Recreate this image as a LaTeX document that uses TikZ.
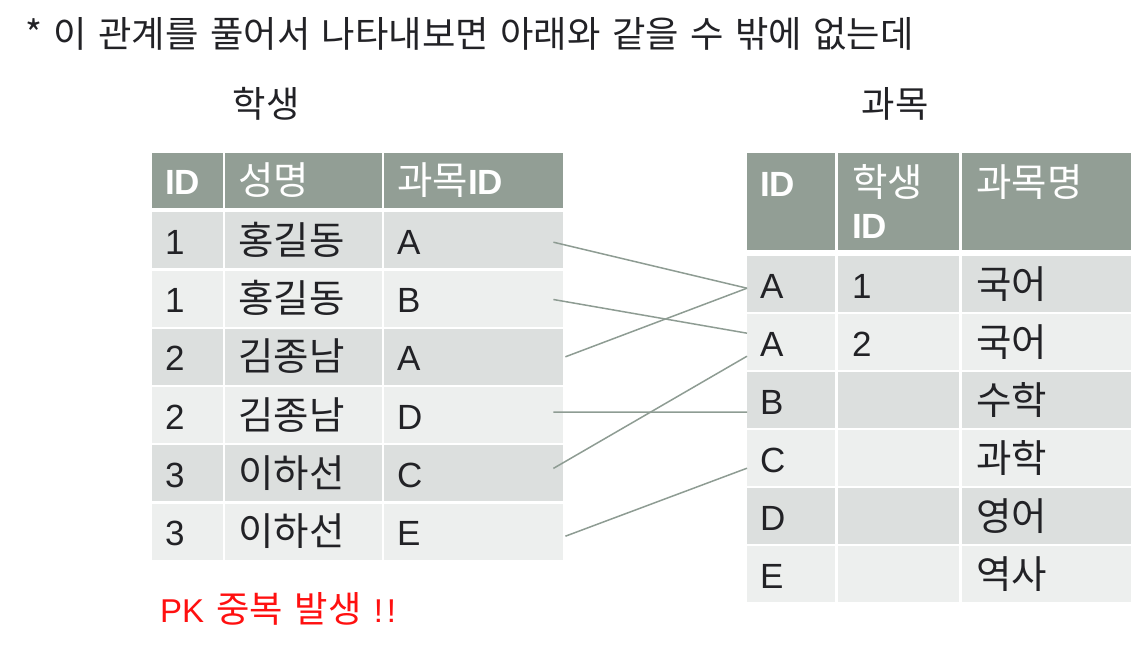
\documentclass[tikz,border=0pt]{standalone}
\usepackage{fontspec}
\setmainfont{Liberation Sans}
\newfontfamily\kr[Scale=1.1]{Noto Sans CJK KR}
\definecolor{hdr}{HTML}{929E95}
\definecolor{dk}{HTML}{DCDFDE}
\definecolor{lt}{HTML}{EDEFEE}
\definecolor{lnk}{HTML}{8E9C93}
\definecolor{txt}{HTML}{222226}
\definecolor{warn}{HTML}{FF1010}
\tikzset{
  cell/.style={inner xsep=13pt, inner ysep=0pt, text height=30pt, text depth=2pt,
    align=left, anchor=north west, text=txt, font=\fontsize{35}{42}\selectfont},
  hcell/.style={cell, fill=hdr, text=white},
  lc1/.style={minimum width=71pt, text width=45pt},
  lc2/.style={minimum width=157pt, text width=131pt},
  lc3/.style={minimum width=179pt, text width=153pt},
  rc1/.style={minimum width=88pt, text width=62pt},
  rc2/.style={minimum width=121pt, text width=93pt, inner xsep=14pt},
  rc3/.style={minimum width=169pt, text width=141pt, inner xsep=14pt},
  lrow/.style={minimum height=56pt},
  rhdr/.style={hcell, minimum height=97pt, text height=43pt, text depth=54pt},
  caption/.style={text=txt, font=\fontsize{33}{40}\selectfont\kr, inner sep=0pt},
  link/.style={draw=lnk, line width=1.5pt},
}
\begin{document}
\begin{tikzpicture}[x=1pt,y=-1pt]
\useasboundingbox (0,0) rectangle (1136,654);
% title
\node[caption, anchor=base west] (title) at (25,47)
  {\spaceskip=11.5pt plus 1pt * 이 관계를 풀어서 나타내보면 아래와 같을 수 밖에 없는데};
\node[caption, anchor=base] (cap-s) at (266,117) {학생};
\node[caption, anchor=base] (cap-c) at (895,117) {과목};
% left table header
\node[hcell, lc1, minimum height=55pt] (lh-1) at (152,153) {\bfseries ID};
\node[hcell, lc2, minimum height=55pt] (lh-2) at (225,153) {\kr 성명};
\node[hcell, lc3, minimum height=55pt] (lh-3) at (384,153) {{\kr 과목}\bfseries ID};
% left table rows
\foreach \i/\sid/\nm/\sub/\col in {1/1/홍길동/A/dk, 2/1/홍길동/B/lt, 3/2/김종남/A/dk,
    4/2/김종남/D/lt, 5/3/이하선/C/dk, 6/3/이하선/E/lt}{
  \node[cell, lc1, lrow, fill=\col] (l\i-1) at (152,{212+58.3*(\i-1)}) {\sid};
  \node[cell, lc2, lrow, fill=\col] (l\i-2) at (225,{212+58.3*(\i-1)}) {\kr \nm};
  \node[cell, lc3, lrow, fill=\col] (l\i-3) at (384,{212+58.3*(\i-1)}) {\sub};
}
% right table header
\node[rhdr, rc1] (rh-1) at (747,153) {\bfseries ID};
\node[rhdr, rc2] (rh-2) at (838,153) {{\kr 학생}\\\bfseries ID};
\node[rhdr, rc3] (rh-3) at (962,153) {\kr 과목명};
% right table rows
\foreach \i/\cid/\sid/\nm/\col in {1/A/1/국어/dk, 2/A/2/국어/lt, 3/B//수학/dk,
    4/C//과학/lt, 5/D//영어/dk, 6/E//역사/lt}{
  \node[cell, rc1, lrow, fill=\col] (r\i-1) at (747,{256+58*(\i-1)}) {\cid};
  \node[cell, rc2, lrow, fill=\col] (r\i-2) at (838,{256+58*(\i-1)}) {\sid};
  \node[cell, rc3, lrow, fill=\col] (r\i-3) at (962,{256+58*(\i-1)}) {\kr \nm};
}
% connectors
\draw[link] ([shift={(-10,2)}]l1-3.east) -- ([shift={(0,4)}]r1-1.west);
\draw[link] ([shift={(-10,1)}]l2-3.east) -- ([shift={(0,-9)}]r2-1.west);
\draw[link] ([shift={(2,0)}]l3-3.east) -- ([shift={(0,4)}]r1-1.west);
\draw[link] ([shift={(-10,-3)}]l4-3.east) -- ([shift={(0,12)}]r3-1.west);
\draw[link] ([shift={(-10,-5)}]l5-3.east) -- ([shift={(0,14)}]r2-1.west);
\draw[link] ([shift={(2,4.5)}]l6-3.east) -- ([shift={(0,10)}]r4-1.west);
% warning
\node[anchor=base west, inner sep=0pt, text=warn, font=\fontsize{33}{40}\selectfont] (pk)
  at (160,622) {\spaceskip=12pt PK {\kr 중복 발생} !\kern4pt!};
\end{tikzpicture}
\end{document}
